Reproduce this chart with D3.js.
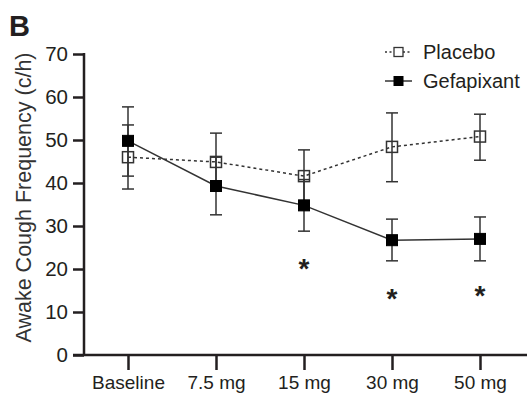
<!DOCTYPE html>
<html>
<head>
<meta charset="utf-8">
<script src="https://cdn.jsdelivr.net/npm/d3@7"></script>
<style>
  html, body { margin: 0; padding: 0; background: #fff; }
  svg { display: block; }
</style>
</head>
<body>
<div id="chart"></div>
<script>
// --- data ---
const categories = ['Baseline', '7.5 mg', '15 mg', '30 mg', '50 mg'];
const placeboMean = [46.0, 44.9, 41.6, 48.4, 50.8];
const placeboHi   = [53.5, 51.6, 47.7, 56.3, 56.0];
const placeboLo   = [38.6, 38.2, 35.5, 40.3, 45.3];
const gefaMean = [49.8, 39.3, 34.8, 26.7, 27.0];
const gefaHi   = [57.7, 46.0, 40.8, 31.6, 32.1];
const gefaLo   = [41.6, 32.6, 28.8, 21.9, 21.9];
// significance markers: category and y value of the asterisk
const starCats = ['15 mg', '30 mg', '50 mg'];
const starVals = [21.6, 14.7, 15.3];
const yTicks = [0, 10, 20, 30, 40, 50, 60, 70];

const W = 527, H = 398;
const FONT = 'Liberation Sans, Arial, Helvetica, sans-serif';
const INK = '#231f20';

const svg = d3.select('#chart').append('svg')
  .attr('width', W).attr('height', H)
  .attr('viewBox', `0 0 ${W} ${H}`);

const x = d3.scalePoint().domain(categories).range([128, 480]);
const y = d3.scaleLinear().domain([0, 70]).range([355, 54]);
const axisX = 84;

// panel letter
svg.append('text')
  .attr('x', 9).attr('y', 36)
  .attr('font-size', 29).attr('font-weight', 'bold')
  .attr('font-family', FONT).attr('fill', INK)
  .text('B');

// y axis
const gy = svg.append('g')
  .attr('transform', `translate(${axisX},0)`)
  .call(d3.axisLeft(y).tickValues(yTicks).tickSize(11).tickSizeOuter(0).tickPadding(5));
gy.select('.domain').remove();
gy.selectAll('.tick line').attr('stroke', INK).attr('stroke-width', 2.5);
gy.selectAll('.tick text')
  .attr('font-size', 20.5).attr('font-family', FONT).attr('fill', INK);

// x axis
const gx = svg.append('g')
  .attr('transform', `translate(0,${y(0)})`)
  .call(d3.axisBottom(x).tickSize(15).tickSizeOuter(0).tickPadding(6));
gx.select('.domain').remove();
gx.selectAll('.tick line').attr('stroke', INK).attr('stroke-width', 2.5);
gx.selectAll('.tick text')
  .attr('font-size', 19).attr('font-family', FONT).attr('fill', INK);

// axis lines
svg.append('line')
  .attr('x1', axisX).attr('x2', axisX)
  .attr('y1', y(70) - 1).attr('y2', y(0))
  .attr('stroke', INK).attr('stroke-width', 2.5);
svg.append('line')
  .attr('x1', axisX - 11).attr('x2', W)
  .attr('y1', y(0)).attr('y2', y(0))
  .attr('stroke', INK).attr('stroke-width', 2.5);

// y axis title
svg.append('text')
  .attr('transform', `translate(31,${(50 + 345) / 2}) rotate(-90)`)
  .attr('text-anchor', 'middle')
  .attr('font-size', 21.5).attr('font-family', FONT).attr('fill', '#333')
  .text('Awake Cough Frequency (c/h)');

const series = [
  { name: 'Placebo', mean: placeboMean, hi: placeboHi, lo: placeboLo, dash: '3,3', fill: '#fff' },
  { name: 'Gefapixant', mean: gefaMean, hi: gefaHi, lo: gefaLo, dash: null, fill: '#000' },
];

const capW = 12;
const MS = 11; // marker size

// error bars
series.forEach(s => {
  const g = svg.append('g');
  categories.forEach((c, i) => {
    const cx = x(c);
    g.append('line')
      .attr('x1', cx).attr('x2', cx)
      .attr('y1', y(s.hi[i])).attr('y2', y(s.lo[i]))
      .attr('stroke', '#333').attr('stroke-width', 1.5);
    [s.hi[i], s.lo[i]].forEach(v => {
      g.append('line')
        .attr('x1', cx - capW / 2).attr('x2', cx + capW / 2)
        .attr('y1', y(v)).attr('y2', y(v))
        .attr('stroke', '#333').attr('stroke-width', 1.5);
    });
  });
});

// lines
const line = d3.line().x((d, i) => x(categories[i])).y(d => y(d));
series.forEach(s => {
  svg.append('path')
    .attr('d', line(s.mean))
    .attr('fill', 'none')
    .attr('stroke', '#333').attr('stroke-width', 1.5)
    .attr('stroke-dasharray', s.dash);
});

// markers
series.forEach(s => {
  svg.append('g').selectAll('rect')
    .data(s.mean)
    .join('rect')
    .attr('x', (d, i) => x(categories[i]) - MS / 2)
    .attr('y', d => y(d) - MS / 2)
    .attr('width', MS).attr('height', MS)
    .attr('fill', s.fill === '#fff' ? 'none' : s.fill)
    .attr('stroke', s.fill === '#fff' ? '#333' : '#000')
    .attr('stroke-width', s.fill === '#fff' ? 1.5 : 1);
});

// asterisks
starCats.forEach((c, i) => {
  svg.append('text')
    .attr('x', x(c)).attr('y', y(starVals[i]) + 16)
    .attr('text-anchor', 'middle')
    .attr('font-size', 28).attr('font-weight', 'bold')
    .attr('font-family', FONT).attr('fill', INK)
    .text('*');
});

// legend
const legY = [52, 81];
series.forEach((s, i) => {
  const ly = legY[i];
  svg.append('line')
    .attr('x1', 385).attr('x2', 412)
    .attr('y1', ly).attr('y2', ly)
    .attr('stroke', '#333').attr('stroke-width', 1.5)
    .attr('stroke-dasharray', s.dash ? '2,2.5' : null);
  svg.append('rect')
    .attr('x', 398.5 - 4.5).attr('y', ly - 4.5)
    .attr('width', 9).attr('height', 9)
    .attr('fill', s.fill === '#fff' ? '#fff' : '#000')
    .attr('stroke', s.fill === '#fff' ? '#333' : '#000')
    .attr('stroke-width', s.fill === '#fff' ? 1.3 : 1);
  svg.append('text')
    .attr('x', 423).attr('y', ly + 7)
    .attr('font-size', 20).attr('font-family', FONT).attr('fill', INK)
    .text(s.name);
});
</script>
</body>
</html>
